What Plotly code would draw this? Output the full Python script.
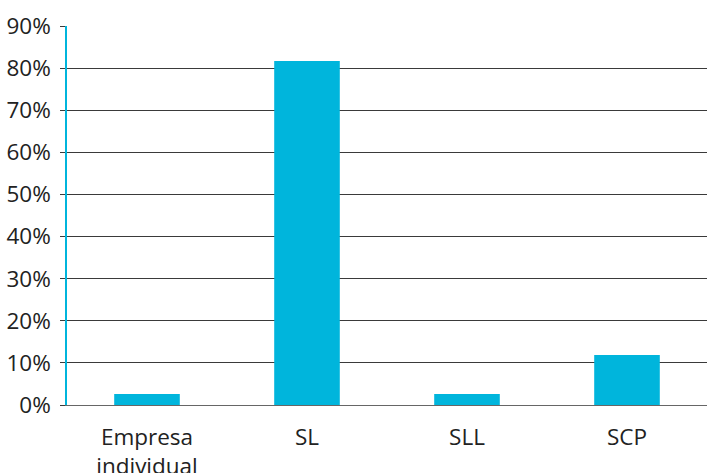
import plotly.graph_objects as go

categories = ["Empresa<br>individual", "SL", "SLL", "SCP"]
values = [2.6, 81.7, 2.6, 11.9]
tick_vals = [0, 10, 20, 30, 40, 50, 60, 70, 80, 90]
tick_text = [f"{v}%" for v in tick_vals]

BAR = "#00B5DC"
FONT = dict(family="Open Sans", size=22.5, color="#222222")

fig = go.Figure(go.Bar(x=categories, y=values, marker=dict(color=BAR, line=dict(width=0)), width=0.41))

fig.update_layout(
    width=707, height=473,
    margin=dict(l=67, r=0, t=26, b=68, autoexpand=False),
    plot_bgcolor="white", paper_bgcolor="white",
    font=FONT, showlegend=False, bargap=0.59,
)
fig.update_yaxes(
    range=[0, 90], tickvals=tick_vals, ticktext=tick_text,
    showgrid=True, gridcolor="#3a3a3a", gridwidth=1,
    zeroline=False, showline=True, linecolor=BAR, linewidth=1.5,
    ticks="outside", ticklen=5, tickcolor="#3a3a3a", tickfont=FONT,
    ticklabelstandoff=5, automargin=False,
)
fig.update_xaxes(
    showgrid=False, showline=True, linecolor="#666666", linewidth=1,
    ticks="", tickfont=FONT, ticklabelstandoff=12, automargin=False,
)

fig.write_html(
    "out.html",
    config={"displayModeBar": False},
    post_script="document.body.style.margin='0';document.body.style.overflow='hidden';",
)
